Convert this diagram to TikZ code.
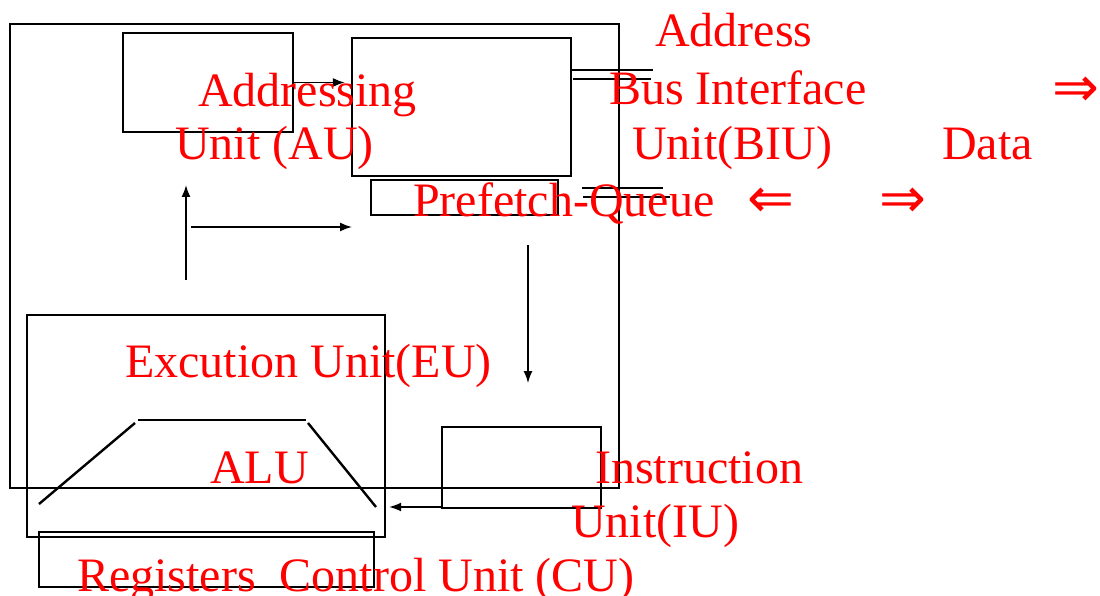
\documentclass[tikz,border=0pt]{standalone}
\usepackage{fontspec}
\setmainfont{Liberation Serif}
\newfontfamily\arrowfont{DejaVu Sans}
\usetikzlibrary{arrows.meta,fit}
\begin{document}
\begin{tikzpicture}[x=1pt,y=-1pt,
  box/.style={draw=black,line width=2.4pt,inner sep=0pt},
  lbl/.style={text=red,font=\fontsize{48}{56}\selectfont,anchor=base west,inner sep=0pt},
  sym/.style={text=red,font=\arrowfont\fontsize{56}{60}\selectfont,anchor=base west,inner sep=0pt},
  arr/.style={draw=black,line width=1.6pt,-{Latex[length=12pt,width=9pt]}},
  bus/.style={draw=black,line width=2.4pt}]
\useasboundingbox (0,0) rectangle (1100,596);
% boxes
\node[box,fit={(10,24) (619,488)}] (biuarea) {};
\node[box,fit={(123,33) (293,132)}] (au) {};
\node[box,fit={(352,38) (571,176)}] (biu) {};
\node[box,fit={(371,180) (558,215)}] (pq) {};
\node[box,fit={(27,315) (385,537)}] (eu) {};
\node[box,fit={(442,427) (601,508)}] (iu) {};
\node[box,fit={(39,532) (374,587)}] (reg) {};
% ALU trapezoid
\coordinate (alutl) at (138,420);
\coordinate (alutr) at (306,420);
\coordinate (alultop) at (135,423);
\coordinate (alulbot) at (39,504);
\coordinate (alurtop) at (308,423);
\coordinate (alurbot) at (376,507);
\draw[bus] (alutl) -- (alutr);
\draw[bus] (alultop) -- (alulbot);
\draw[bus] (alurtop) -- (alurbot);
% bus lines
\coordinate (a1) at (571,70); \coordinate (a2) at (653,70);
\coordinate (b1) at (573,79); \coordinate (b2) at (651,79);
\coordinate (c1) at (582,188); \coordinate (c2) at (663,188);
\coordinate (d1) at (583,197); \coordinate (d2) at (670,197);
\draw[bus] (a1) -- (a2);
\draw[bus] (b1) -- (b2);
\draw[bus] (c1) -- (c2);
\draw[bus] (d1) -- (d2);
% arrows
\draw[arr,shorten >=6pt] (au.east) -- (au.east -| biu.west);
\coordinate (upstart) at (186,280);
\coordinate (upend) at (186,185);
\draw[arr] (upstart) -- (upend);
\coordinate (hstart) at (191,227);
\coordinate (hend) at (352,227);
\draw[arr] (hstart) -- (hend);
\coordinate (dstart) at (528,245);
\coordinate (dend) at (528,383);
\draw[arr,line width=1.3pt] (dstart) -- (dend);
\coordinate (iuout) at (442,507);
\draw[arr,line width=1.3pt,shorten >=3pt] (iuout) -- (iuout -| eu.east);
% labels
\node[lbl] (t1) at (198,107) {Addressing};
\node[lbl] (t2) at (175,160) {Unit (AU)};
\node[lbl] (t3) at (655,47) {Address};
\node[lbl] (t4) at (609,105) {Bus Interface};
\node[sym] (s1) at (1052,107) {⇒};
\node[lbl] (t5) at (632,160) {Unit(BIU)};
\node[lbl] (t6) at (942,160) {Data};
\node[lbl] (t7) at (413,216) {Prefetch-Queue};
\node[sym] (s2) at (747,218) {⇐};
\node[sym] (s3) at (879,218) {⇒};
\node[lbl] (t8) at (125,377) {Excution Unit(EU)};
\node[lbl] (t9) at (210,483) {ALU};
\node[lbl] (t10) at (595,483) {Instruction};
\node[lbl] (t11) at (571,537) {Unit(IU)};
\node[lbl] (t12) at (77,591) {Registers\ \ Control Unit (CU)};
\end{tikzpicture}
\end{document}
